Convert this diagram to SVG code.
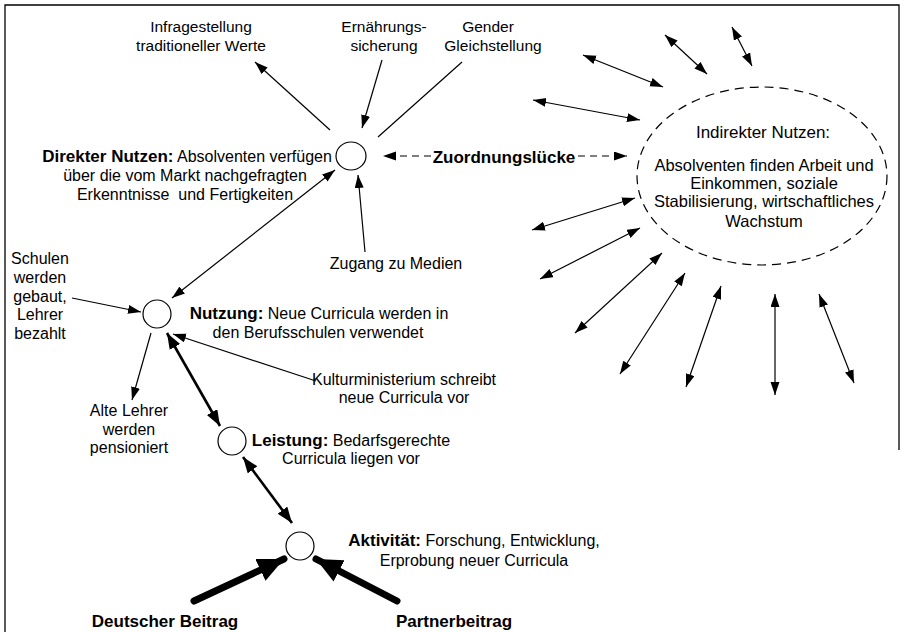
<svg xmlns="http://www.w3.org/2000/svg" width="907" height="632" viewBox="0 0 907 632">
<defs>
<style>
text{font-family:"Liberation Sans",Arial,sans-serif;fill:#000}
.r{font-size:16px}
.t{font-size:15.5px}
.b{font-weight:bold;font-size:17px}
.m{text-anchor:middle}
.ln{stroke:#000;stroke-width:1.2;fill:none}
.thick{stroke:#000;stroke-width:2.6;fill:none}
.heavy{stroke:#000;stroke-width:7;fill:none;stroke-linecap:round}
.node{fill:#fff;stroke:#000;stroke-width:1.2}
</style>
<marker id="a" markerUnits="userSpaceOnUse" markerWidth="14" markerHeight="10" refX="13" refY="4.5" orient="auto-start-reverse" viewBox="0 0 14 10"><path d="M0,0 L13,4.5 L0,9 z" fill="#000"/></marker>
<marker id="at" markerUnits="userSpaceOnUse" markerWidth="17" markerHeight="13" refX="16" refY="6" orient="auto-start-reverse" viewBox="0 0 17 13"><path d="M0,0 L16,6 L0,12 z" fill="#000"/></marker>
<marker id="ah" markerUnits="userSpaceOnUse" markerWidth="28" markerHeight="26" refX="26" refY="12" orient="auto" viewBox="0 0 28 26"><path d="M0,0 L26,12 L0,24 z" fill="#000"/></marker>
</defs>
<rect width="907" height="632" fill="#fff"/>
<path d="M5,632 V5 H899 V450" fill="none" stroke="#000" stroke-width="1.3"/>

<g id="connectors">
<line class="ln" x1="330" y1="130" x2="255" y2="62" marker-end="url(#a)"/>
<line class="ln" x1="382" y1="60" x2="362" y2="128" marker-end="url(#a)"/>
<line class="ln" x1="378" y1="137" x2="462" y2="62"/>
<line class="ln" x1="365" y1="252" x2="358" y2="175" marker-end="url(#a)"/>
<line class="ln" x1="335" y1="170" x2="172" y2="298" marker-start="url(#a)" marker-end="url(#a)"/>
<line class="ln" x1="72" y1="298" x2="141" y2="312" marker-end="url(#a)"/>
<line class="ln" x1="151" y1="333" x2="132" y2="400" marker-end="url(#a)"/>
<line class="ln" x1="316" y1="381" x2="173" y2="334" marker-end="url(#a)"/>
<line class="thick" x1="167" y1="333" x2="220" y2="426" marker-start="url(#at)" marker-end="url(#at)"/>
<line class="thick" x1="243" y1="457" x2="292" y2="523" marker-start="url(#at)" marker-end="url(#at)"/>
<line class="heavy" x1="194" y1="601" x2="284" y2="559" marker-end="url(#ah)"/>
<line class="heavy" x1="397" y1="601" x2="316" y2="559" marker-end="url(#ah)"/>
<line class="ln" x1="431" y1="156" x2="383" y2="156" stroke-dasharray="7 5" marker-end="url(#a)"/>
<line class="ln" x1="578" y1="156" x2="627" y2="156" stroke-dasharray="7 5" marker-end="url(#a)"/>
<line class="ln" x1="665" y1="35" x2="707" y2="74" marker-start="url(#a)" marker-end="url(#a)"/>
<line class="ln" x1="732" y1="27" x2="752" y2="66" marker-start="url(#a)" marker-end="url(#a)"/>
<line class="ln" x1="583" y1="55" x2="663" y2="87" marker-start="url(#a)" marker-end="url(#a)"/>
<line class="ln" x1="533" y1="100" x2="640" y2="120" marker-start="url(#a)" marker-end="url(#a)"/>
<line class="ln" x1="532" y1="230" x2="635" y2="198" marker-start="url(#a)" marker-end="url(#a)"/>
<line class="ln" x1="540" y1="279" x2="640" y2="228" marker-start="url(#a)" marker-end="url(#a)"/>
<line class="ln" x1="575" y1="333" x2="662" y2="253" marker-start="url(#a)" marker-end="url(#a)"/>
<line class="ln" x1="620" y1="374" x2="685" y2="273" marker-start="url(#a)" marker-end="url(#a)"/>
<line class="ln" x1="686" y1="387" x2="721" y2="286" marker-start="url(#a)" marker-end="url(#a)"/>
<line class="ln" x1="775" y1="395" x2="775" y2="294" marker-start="url(#a)" marker-end="url(#a)"/>
<line class="ln" x1="854" y1="383" x2="819" y2="294" marker-start="url(#a)" marker-end="url(#a)"/>
</g>

<g id="n-infrage"><text class="t m" x="201" y="32">Infragestellung</text><text class="t m" x="201" y="51">traditioneller Werte</text></g>
<g id="n-ernaehrung"><text class="t m" x="384" y="32">Ernährungs-</text><text class="t m" x="384" y="51">sicherung</text></g>
<g id="n-gender"><text class="t m" x="488" y="32">Gender</text><text class="t m" x="493" y="51">Gleichstellung</text></g>

<g id="n-direkt">
<ellipse class="node" cx="351" cy="156" rx="15" ry="14"/>
<text class="r m" x="187" y="162"><tspan class="b">Direkter Nutzen:</tspan> Absolventen verfügen</text>
<text class="r m" x="185" y="181">über die vom Markt nachgefragten</text>
<text class="r m" x="185" y="200">Erkenntnisse&#160; und Fertigkeiten</text>
</g>

<g id="n-luecke"><text class="b m" x="504" y="163">Zuordnungslücke</text></g>

<g id="n-indirekt">
<ellipse cx="762" cy="176" rx="125" ry="89" fill="none" stroke="#000" stroke-width="1.2" stroke-dasharray="9 6"/>
<text class="m" font-size="17px" x="763" y="138">Indirekter Nutzen:</text>
<text class="m" font-size="16.5px" x="764" y="171">Absolventen finden Arbeit und</text>
<text class="m" font-size="16.5px" x="764" y="189">Einkommen, soziale</text>
<text class="m" font-size="16.5px" x="764" y="207">Stabilisierung, wirtschaftliches</text>
<text class="m" font-size="16.5px" x="764" y="227">Wachstum</text>
</g>

<g id="n-zugang"><text class="r m" x="396" y="269">Zugang zu Medien</text></g>

<g id="n-schulen">
<text class="r m" x="40" y="264">Schulen</text>
<text class="r m" x="40" y="283">werden</text>
<text class="r m" x="40" y="302">gebaut,</text>
<text class="r m" x="40" y="320">Lehrer</text>
<text class="r m" x="40" y="339">bezahlt</text>
</g>

<g id="n-nutzung">
<ellipse class="node" cx="157" cy="314" rx="14" ry="14"/>
<text class="r m" x="319" y="319"><tspan class="b">Nutzung:</tspan> Neue Curricula werden in</text>
<text class="r m" x="318" y="338">den Berufsschulen verwendet</text>
</g>

<g id="n-kultur">
<text class="r m" x="404" y="385">Kulturministerium schreibt</text>
<text class="r m" x="404" y="403">neue Curricula vor</text>
</g>

<g id="n-alte">
<text class="r m" x="129" y="416">Alte Lehrer</text>
<text class="r m" x="129" y="435">werden</text>
<text class="r m" x="129" y="453">pensioniert</text>
</g>

<g id="n-leistung">
<ellipse class="node" cx="232" cy="441" rx="14" ry="14"/>
<text class="r m" x="351" y="446"><tspan class="b">Leistung:</tspan> Bedarfsgerechte</text>
<text class="r m" x="351" y="464">Curricula liegen vor</text>
</g>

<g id="n-aktivitaet">
<ellipse class="node" cx="300" cy="546" rx="14" ry="14"/>
<text class="r m" x="474" y="546"><tspan class="b">Aktivität:</tspan> Forschung, Entwicklung,</text>
<text class="r m" x="474" y="566">Erprobung neuer Curricula</text>
</g>

<g id="n-deutsch"><text class="b m" x="165" y="627">Deutscher Beitrag</text></g>
<g id="n-partner"><text class="b m" x="454" y="627">Partnerbeitrag</text></g>
</svg>
